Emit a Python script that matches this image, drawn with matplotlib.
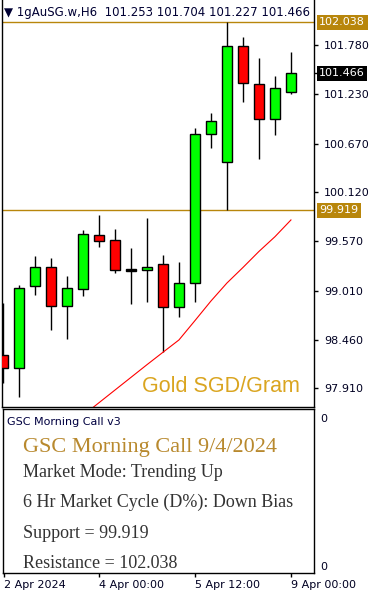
import numpy as np
import matplotlib.pyplot as plt
import matplotlib.transforms as mtransforms

# OHLC of the H6 candles (2 Apr -> 9 Apr)
opens = [98.288, 98.138, 99.062, 99.276, 98.844, 99.035, 99.641, 99.584, 99.262, 99.243,
         99.314, 98.825, 99.096, 100.776, 100.467, 101.771, 101.340, 100.945, 101.253]
highs = [98.871, 99.077, 99.404, 99.381, 99.178, 99.697, 99.866, 99.708, 99.494, 99.832,
         99.415, 99.340, 100.843, 101.013, 102.038, 101.876, 101.633, 101.433, 101.704]
lows = [97.969, 97.811, 98.964, 98.570, 98.468, 98.953, 99.509, 99.216, 98.866, 98.889,
        98.318, 98.719, 98.889, 100.618, 99.919, 101.143, 100.501, 100.768, 101.227]
closes = [98.138, 99.040, 99.276, 98.844, 99.043, 99.652, 99.576, 99.243, 99.236, 99.276,
          98.825, 99.099, 100.776, 100.926, 101.771, 101.351, 100.945, 101.294, 101.466]
# moving average (red line)
ma = [np.nan] * 5 + [97.606, 97.749, 97.892, 98.035, 98.178, 98.318, 98.457, 98.675,
                     98.896, 99.099, 99.274, 99.455, 99.621, 99.810]

resistance = 102.038
support = 99.919
last_price = 101.466
price_ticks = [101.780, 101.230, 100.670, 100.120, 99.570, 99.010, 98.460, 97.910]
xtick_idx = [0, 6, 12, 18]
xtick_labels = ["2 Apr 2024", "4 Apr 00:00", "5 Apr 12:00", "9 Apr 00:00"]
info_lines = ["Market Mode: Trending Up",
              "6 Hr Market Cycle (D%): Down Bias",
              "Support = 99.919",
              "Resistance = 102.038"]

W, H = 371, 597
fig = plt.figure(figsize=(W / 100, H / 100), dpi=100)
gold = "#B8860B"

def px_axes(x0, y0, x1, y1):
    return fig.add_axes([x0 / W, 1 - y1 / H, (x1 - x0) / W, (y1 - y0) / H])

ax = px_axes(2, 0, 314.3, 407)
ax2 = px_axes(2.7, 409.3, 314.3, 572.7)

x = np.arange(len(opens))
o = np.array(opens); c = np.array(closes)
cols = ["#00FF00" if cc >= oo else "#FF0000" for oo, cc in zip(o, c)]
cols[8] = "black"  # doji
ax.vlines(x, lows, highs, color="black", lw=1, zorder=2)
ax.bar(x, np.abs(c - o), bottom=np.minimum(o, c), width=0.62, color=cols,
       edgecolor="black", linewidth=1, zorder=3)
ax.plot(x, ma, color="red", lw=0.8, zorder=2)

ax.axhline(resistance, color=gold, lw=1, zorder=1)
ax.axhline(support, color=gold, lw=1, zorder=1)

ax.set_xlim(-0.06, 19.46)
ax.set_ylim(97.701, 102.290)
ax.yaxis.tick_right()
ax.set_yticks(price_ticks + [last_price])
ax.set_yticklabels(["%.3f" % v for v in price_ticks] + [""], fontsize=8, color="#000022")
ax.tick_params(axis="y", length=3, width=1, pad=4)
ax.tick_params(axis="x", bottom=False, labelbottom=False)
for s in ax.spines.values():
    s.set_linewidth(1)
ax.spines["top"].set_visible(False)

trans = mtransforms.blended_transform_factory(ax.transAxes, ax.transData)
for val, bg in [(resistance, gold), (support, gold), (last_price, "black")]:
    ax.text(1.016, val, "%.3f" % val, transform=trans, fontsize=8, color="white",
            va="center", ha="left",
            bbox=dict(boxstyle="square,pad=0.22", fc=bg, ec="none"), clip_on=False)

ax.text(0.005, 0.970, "\u25BC 1gAuSG.w,H6  101.253 101.704 101.227 101.466",
        transform=ax.transAxes, fontsize=8.5, color="#000033", va="center", ha="left")
ax.text(18.56, 97.874, "Gold SGD/Gram", fontsize=15.5, color="#DAA520",
        family="Liberation Sans", ha="right", va="baseline")

# lower indicator panel
ax2.set_xlim(-0.06, 19.46)
ax2.set_ylim(0, 1)
ax2.yaxis.tick_right()
ax2.set_yticks([0.947, 0.041])
ax2.set_yticklabels(["0", "0"], fontsize=8, color="#000022")
ax2.tick_params(axis="y", length=0, pad=4)
ax2.set_xticks(xtick_idx)
ax2.set_xticklabels(xtick_labels, fontsize=8, ha="left", color="#000022")
ax2.tick_params(axis="x", length=3, width=1, pad=2)
for s in ax2.spines.values():
    s.set_linewidth(1)

ax2.text(0.015, 0.904, "GSC Morning Call v3", transform=ax2.transAxes, fontsize=8,
         color="#000040", va="baseline")
ax2.text(0.065, 0.7405, "GSC Morning Call 9/4/2024", transform=ax2.transAxes,
         fontsize=16, color="#B8892E", family="Liberation Serif", va="baseline")
for txt, yy in zip(info_lines, [0.5838, 0.4002, 0.2142, 0.0306]):
    ax2.text(0.065, yy, txt, transform=ax2.transAxes, fontsize=13, color="#333333",
             family="Liberation Serif", va="baseline")

fig.savefig("out.png", dpi=100)
